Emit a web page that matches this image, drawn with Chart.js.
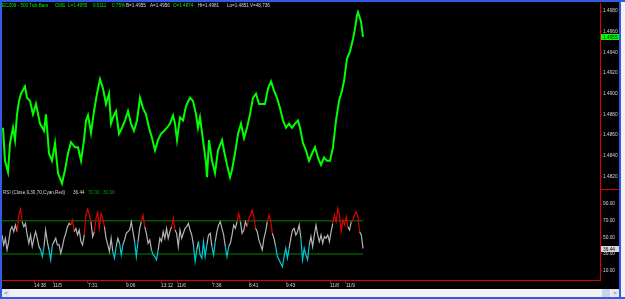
<!DOCTYPE html>
<html>
<head>
<meta charset="utf-8">
<script src="https://cdn.jsdelivr.net/npm/chart.js@4.4.1/dist/chart.umd.min.js"></script>
<style>
  body { margin: 0; background: #000; }
  #frame { position: relative; width: 625px; height: 299px; overflow: hidden; background: #000;
           font-family: "Liberation Sans", Arial, sans-serif; }
  #plot { position: absolute; left: 0; top: 0; }
  .edge { position: absolute; background: #2f5be6; }
  .txt { position: absolute; font-size: 4.6px; line-height: 6px; white-space: nowrap; }
  .g { color: #00e600; }
  .w { color: #d4d4d4; }
  .dg { color: #00a000; }
  #scroll { position: absolute; left: 2px; top: 289px; width: 617px; height: 8px; background: #f2f2f2; }
  .btn { position: absolute; top: 0; width: 8px; height: 8px; background: #e4e8f0; color: #4060a0;
         font-size: 6px; line-height: 8px; text-align: center; }
</style>
</head>
<body>
<div id="frame">
  <canvas id="plot" width="625" height="289"></canvas>

  <div class="txt g" style="left:2px;top:3px">ECZ09 - 500 Tick Bars</div>
  <div class="txt g" style="left:55px;top:3px">CME</div>
  <div class="txt g" style="left:68px;top:3px">L=1.4955</div>
  <div class="txt g" style="left:93px;top:3px">0.0111</div>
  <div class="txt g" style="left:112px;top:3px">0.75%</div>
  <div class="txt w" style="left:126px;top:3px">B=1.4955</div>
  <div class="txt w" style="left:150px;top:3px">A=1.4956</div>
  <div class="txt g" style="left:173px;top:3px">O=1.4874</div>
  <div class="txt w" style="left:198px;top:3px">Hi=1.4981</div>
  <div class="txt w" style="left:227px;top:3px">Lo=1.4851</div>
  <div class="txt w" style="left:250px;top:3px">V=48,736</div>

  <div class="txt w" style="left:3px;top:190px">RSI (Close,9,30,70,Cyan,Red)</div>
  <div class="txt w" style="left:73px;top:190px">36.44</div>
  <div class="txt dg" style="left:88px;top:190px">70.00</div>
  <div class="txt dg" style="left:103px;top:190px">30.00</div>

  <div id="scroll">
    <div class="btn" style="left:0">&lt;</div>
    <div class="btn" style="left:600px;width:8px;background:#c8d4ec"></div>
    <div class="btn" style="left:609px">&gt;</div>
  </div>
  <div class="edge" style="left:0;top:0;width:2px;height:299px"></div>
  <div class="edge" style="left:0;top:0;width:625px;height:2px"></div>
  <div class="edge" style="left:619px;top:0;width:2px;height:299px"></div>
  <div class="edge" style="left:0;top:297px;width:625px;height:2px"></div>
  <div style="position:absolute;left:621px;top:2px;width:4px;height:295px;background:#f2f2f2"></div>
</div>

<script>
  // bar numbers run along the x axis of the chart window
  var barRange = [2, 600];

  // price path (bar number, price)
  var priceBars = [3, 5, 8, 10, 13, 15, 17, 19, 21, 25, 27, 30, 33, 36, 40, 44, 46, 49, 52, 55,
    58, 62, 65, 68, 71, 75, 78, 81, 84, 86, 88, 91, 94, 97, 100, 103, 106, 109, 111, 113,
    116, 119, 122, 125, 128, 131, 134, 137, 140, 143, 146, 149, 152, 155, 158, 161, 164, 167, 170, 173,
    175, 177, 180, 183, 186, 190, 193, 196, 198, 200, 203, 206, 207, 209, 212, 215, 218, 222, 224, 227,
    230, 232, 235, 238, 241, 244, 247, 250, 253, 256, 259, 262, 265, 268, 271, 274, 277, 280, 283, 286,
    289, 292, 295, 298, 300, 303, 306, 309, 312, 315, 318, 321, 324, 327, 330, 333, 336, 339, 342, 344,
    347, 350, 353, 355, 357, 358, 361, 363];
  var priceClose = [1.4867, 1.4835, 1.4824, 1.4852, 1.4867, 1.4855, 1.4880, 1.4893, 1.4900, 1.4907,
    1.4896, 1.4893, 1.4880, 1.4890, 1.4871, 1.4864, 1.4880, 1.4842, 1.4835, 1.4852,
    1.4823, 1.4813, 1.4826, 1.4842, 1.4853, 1.4848, 1.4848, 1.4835, 1.4855, 1.4874,
    1.4879, 1.4862, 1.4883, 1.4900, 1.4914, 1.4905, 1.4890, 1.4900, 1.4871, 1.4877,
    1.4883, 1.4861, 1.4867, 1.4874, 1.4883, 1.4871, 1.4864, 1.4874, 1.4896, 1.4886,
    1.4880, 1.4867, 1.4857, 1.4845, 1.4855, 1.4861, 1.4864, 1.4867, 1.4871, 1.4879,
    1.4871, 1.4855, 1.4877, 1.4874, 1.4888, 1.4896, 1.4893, 1.4880, 1.4867, 1.4877,
    1.4855, 1.4833, 1.4819, 1.4855, 1.4835, 1.4823, 1.4845, 1.4855, 1.4845, 1.4831,
    1.4819, 1.4826, 1.4842, 1.4861, 1.4871, 1.4857, 1.4867, 1.4880, 1.4896, 1.4900,
    1.4890, 1.4890, 1.4890, 1.4905, 1.4912, 1.4903, 1.4896, 1.4886, 1.4874, 1.4867,
    1.4871, 1.4867, 1.4871, 1.4874, 1.4867, 1.4852, 1.4845, 1.4835, 1.4842, 1.4848,
    1.4838, 1.4831, 1.4838, 1.4835, 1.4835, 1.4848, 1.4874, 1.4893, 1.4903, 1.4912,
    1.4934, 1.4941, 1.4953, 1.4963, 1.4976, 1.4979, 1.4970, 1.4955];
  var lastPrice = 1.4955;

  // RSI(9), sampled evenly over the same bars
  var rsiValues = [52.8, 40.8, 48.8, 34.8, 44.8, 58.8, 62.8, 56.8, 64.8, 56.8, 76.8, 84, 68.8, 62.8, 66.8,
    52.8, 42.8, 52.8, 38.8, 48.8, 56.8, 48.8, 38.8, 34.8, 26.8, 38.8, 58.8, 44.8, 34.8, 22.8,
    40.8, 44.8, 48.8, 40.8, 40.8, 30.8, 38.8, 48.8, 54.8, 62.8, 66.8, 64.8, 70.8, 56.8, 60.8,
    52.8, 58.8, 44.8, 40.8, 52.8, 76.8, 84, 76.8, 68.8, 50.8, 56.8, 72.8, 80, 60.8, 78.8,
    72.8, 62.8, 48.8, 40.8, 32.8, 48.8, 32.8, 24.8, 38.8, 48.8, 42.8, 28.8, 40.8, 46.8, 54.8,
    56.8, 58.8, 68.8, 56.8, 44.8, 26.8, 44.8, 60.8, 68.8, 76.8, 62.8, 54.8, 42.8, 46.8, 34.8,
    28.8, 26.8, 22.8, 34.8, 48.8, 44.8, 56.8, 48.8, 60.8, 48.8, 56.8, 62.8, 72.8, 58.8, 54.8,
    38.8, 58.8,
    48.8, 54.8, 60.8, 62.8, 66.8, 58.8, 52.8, 40.8, 20.8, 34.8, 44.8, 28.8, 24.8, 44.8, 26.8,
    40.8, 52.8, 54.8, 38.8, 28.8, 44.8, 56.8, 64.8, 68.8, 60.8, 52.8, 38.8, 26.8, 38.8, 42.8,
    52.8, 64.8, 60.8, 68.8, 78.8, 68.8, 54.8, 58.8, 68.8, 62.8, 72.8, 76.8, 82.8, 74.8, 60.8,
    56.8, 46.8, 40.8, 34.8, 48.8, 56.8, 68.8, 76.8, 70.8, 54.8, 48.8, 38.8, 26.8, 22.8, 18.8,
    14.8, 26.8, 36.8, 24.8, 36.8, 48.8, 58.8, 60.8, 52.8, 56.8, 64.8, 48.8, 22.8, 36.8, 28.8,
    22.8, 40.8, 50.8, 38.8, 52.8, 64.8, 52.8, 44.8, 52.8, 42.8, 50.8, 48.8, 52.8, 44.8, 56.8,
    66.8, 76.8, 68.8, 84.8, 76.8, 56.8, 70.8, 64.8, 74.8, 62.8, 58.8, 68.8, 70.8, 76.8, 80.8,
    74.8, 56.8, 52.8, 36.44];
  var rsiFirstBar = 2;
  var rsiLastBar = 363;
  var rsiHigh = 70;
  var rsiLow = 30;

  // axis ticks
  var priceTicks = [1.4820, 1.4840, 1.4860, 1.4880, 1.4900, 1.4920, 1.4940, 1.4960, 1.4980];
  var priceRange = [1.4808, 1.4987];
  var rsiTicks = [10, 30, 50, 70, 90];
  var rsiRange = [-1.5, 108.7];
  var timeBars = [34, 53, 88, 126, 161, 177, 212, 249, 286, 330, 346];
  var timeLabels = ["14:38", "11/5", "7:31", "9:06", "13:12", "11/6", "7:36", "8:41", "9:43", "11/8", "11/9"];

  var axisRed = '#e00000';
  var tickFont = { family: 'Liberation Sans', size: 4.8 };

  function pricePoints() {
    var pts = [];
    for (var i = 0; i < priceBars.length; i++)
      pts.push({ x: priceBars[i], y: priceClose[i] });
    return pts;
  }

  function rsiPoints() {
    var pts = [];
    var step = (rsiLastBar - rsiFirstBar) / (rsiValues.length - 1);
    for (var i = 0; i < rsiValues.length; i++)
      pts.push({ x: rsiFirstBar + i * step, y: rsiValues[i] });
    return pts;
  }

  function levelLine(v) {
    return [{ x: barRange[0], y: v }, { x: rsiLastBar, y: v }];
  }

  function tag(ctx, x, y, text, bg) {
    ctx.fillStyle = bg;
    ctx.fillRect(x + 1, Math.round(y) - 3, 18, 6);
    ctx.fillStyle = '#000';
    ctx.font = '4.8px "Liberation Sans"';
    ctx.textBaseline = 'middle';
    ctx.textAlign = 'left';
    ctx.fillText(text, x + 3, Math.round(y) + 0.5);
  }

  var paneMarks = {
    id: 'paneMarks',
    afterDraw: function (chart) {
      var ctx = chart.ctx, area = chart.chartArea;
      var y = chart.scales.y, y2 = chart.scales.y2;
      ctx.save();
      ctx.strokeStyle = axisRed;
      ctx.lineWidth = 1;
      ctx.beginPath();
      ctx.moveTo(area.right, Math.round(y.bottom) + 0.5);
      ctx.lineTo(chart.width, Math.round(y.bottom) + 0.5);
      ctx.stroke();
      tag(ctx, area.right, y.getPixelForValue(lastPrice), lastPrice.toFixed(4), '#00ff00');
      tag(ctx, area.right, y2.getPixelForValue(rsiValues[rsiValues.length - 1]),
          rsiValues[rsiValues.length - 1].toFixed(2), '#d8d8d8');
      ctx.restore();
    }
  };

  var config = {
    type: 'line',
    data: {
      datasets: [
        {
          data: pricePoints(), yAxisID: 'y', borderColor: '#00ff00', borderWidth: 2,
          pointRadius: 0, order: 0
        },
        {
          data: rsiPoints(), yAxisID: 'y2', borderColor: '#b4b4b4', borderWidth: 1.2,
          pointRadius: 0, order: 1,
          segment: {
            borderColor: function (c) {
              var a = c.p0.parsed.y, b = c.p1.parsed.y;
              if (Math.max(a, b) > rsiHigh) return '#e00000';
              if (Math.min(a, b) < rsiLow) return '#00c8d8';
              return '#b4b4b4';
            }
          }
        },
        { data: levelLine(rsiHigh), yAxisID: 'y2', borderColor: '#005a00', borderWidth: 1.5, pointRadius: 0, order: 2 },
        { data: levelLine(rsiLow), yAxisID: 'y2', borderColor: '#005a00', borderWidth: 1.5, pointRadius: 0, order: 2 }
      ]
    },
    options: {
      responsive: false,
      animation: false,
      events: [],
      layout: { padding: { left: 2, top: 2, right: 0, bottom: 0 } },
      plugins: { legend: { display: false }, tooltip: { enabled: false } },
      scales: {
        x: {
          type: 'linear', min: barRange[0], max: barRange[1],
          border: { color: axisRed },
          grid: { drawOnChartArea: false, tickLength: 3, color: axisRed },
          ticks: {
            color: '#d4d4d4', font: tickFont, align: 'start', padding: 0,
            maxRotation: 0, autoSkip: false,
            callback: function (v, i) { return timeLabels[i]; }
          },
          afterBuildTicks: function (s) { s.ticks = timeBars.map(function (v) { return { value: v }; }); },
          afterFit: function (s) { s.height = 9; }
        },
        y: {
          type: 'linear', position: 'right', stack: 'panes', stackWeight: 186,
          min: priceRange[0], max: priceRange[1],
          border: { color: axisRed },
          grid: { drawOnChartArea: false, tickLength: 2, color: axisRed },
          ticks: {
            color: '#d4d4d4', font: tickFont, padding: 1,
            callback: function (v) { return v.toFixed(4); }
          },
          afterBuildTicks: function (s) { s.ticks = priceTicks.map(function (v) { return { value: v }; }); },
          afterFit: function (s) { s.width = 25; }
        },
        y2: {
          type: 'linear', position: 'right', stack: 'panes', stackWeight: 92,
          min: rsiRange[0], max: rsiRange[1],
          border: { color: axisRed },
          grid: { drawOnChartArea: false, tickLength: 2, color: axisRed },
          ticks: {
            color: '#d4d4d4', font: tickFont, padding: 1,
            callback: function (v) { return v.toFixed(2); }
          },
          afterBuildTicks: function (s) { s.ticks = rsiTicks.map(function (v) { return { value: v }; }); },
          afterFit: function (s) { s.width = 25; }
        }
      }
    },
    plugins: [paneMarks]
  };

  new Chart(document.getElementById('plot').getContext('2d'), config);
</script>
</body>
</html>
